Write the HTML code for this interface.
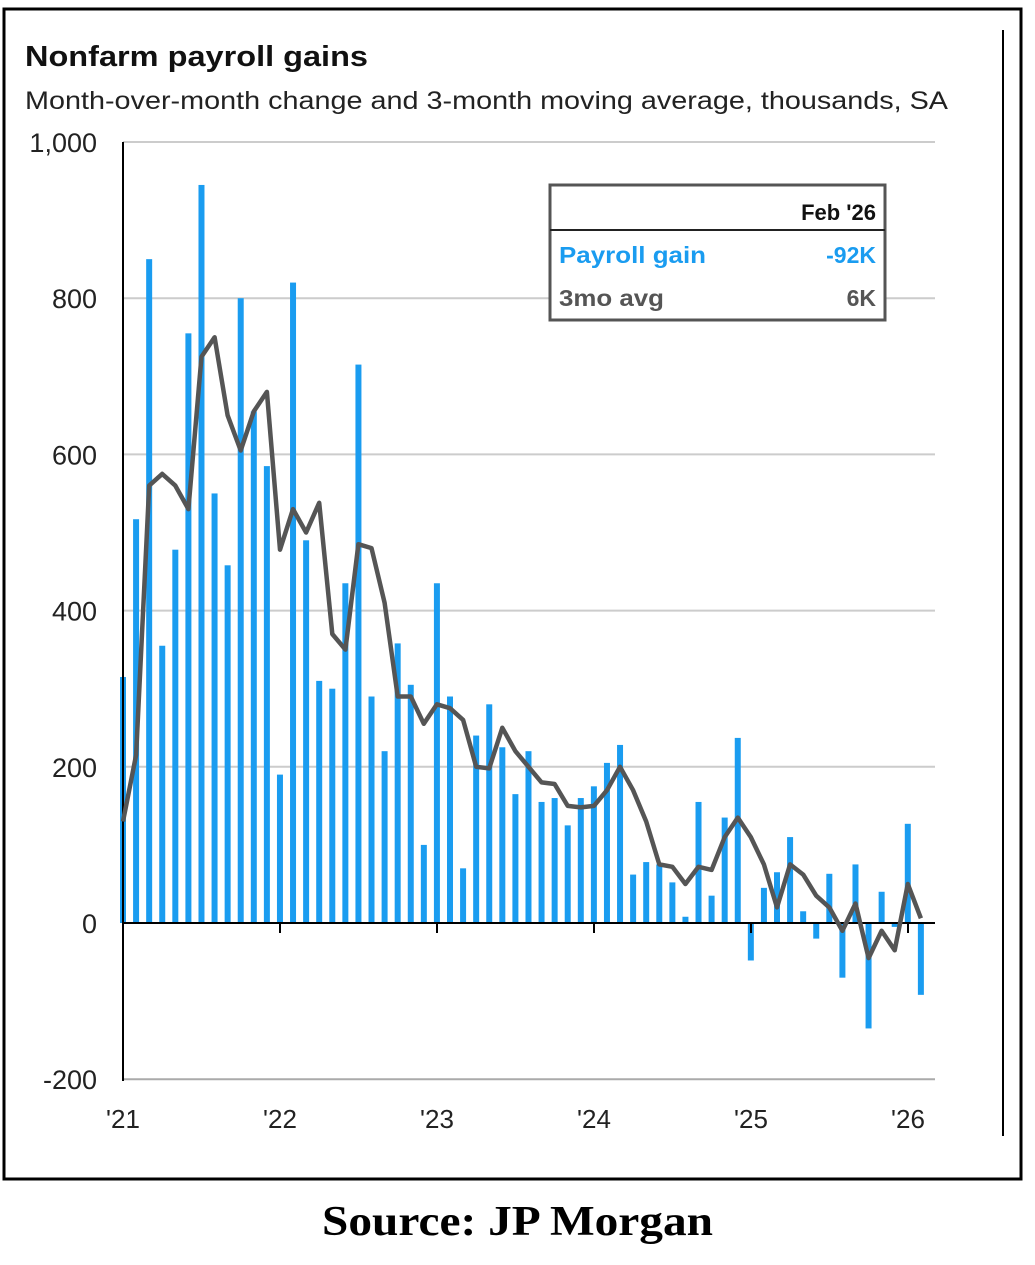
<!DOCTYPE html>
<html><head><meta charset="utf-8"><style>
body{margin:0;background:#fff;width:1035px;height:1260px;overflow:hidden}
</style></head><body>
<svg id="s" width="1035" height="1260" xmlns="http://www.w3.org/2000/svg" font-family="Liberation Sans, Arial, sans-serif">
<rect x="4" y="9" width="1017" height="1170" fill="none" stroke="#000" stroke-width="3"/>
<line x1="1003" y1="30" x2="1003" y2="1136" stroke="#000" stroke-width="2"/>
<text x="25" y="66" font-size="29" font-weight="bold" fill="#111" textLength="343" lengthAdjust="spacingAndGlyphs">Nonfarm payroll gains</text>
<text x="25" y="109" font-size="25" fill="#222" textLength="923" lengthAdjust="spacingAndGlyphs">Month-over-month change and 3-month moving average, thousands, SA</text>
<g id="grid"></g>
<g id="bars"></g>
<g id="ax"></g>
<polyline id="ln" fill="none" stroke="#555" stroke-width="4.5" stroke-linejoin="round"/>
<rect x="550" y="185" width="335" height="135" fill="#fff" stroke="#555" stroke-width="3"/>
<line x1="550" y1="230" x2="885" y2="230" stroke="#222" stroke-width="2"/>
<text x="876" y="220" font-size="22" font-weight="bold" text-anchor="end" fill="#111">Feb '26</text>
<text x="559" y="263" font-size="23" font-weight="bold" fill="#1a9cf0" textLength="147" lengthAdjust="spacingAndGlyphs">Payroll gain</text>
<text x="876" y="263" font-size="23" font-weight="bold" text-anchor="end" fill="#1a9cf0">-92K</text>
<text x="559" y="306" font-size="23" font-weight="bold" fill="#555" textLength="105" lengthAdjust="spacingAndGlyphs">3mo avg</text>
<text x="876" y="306" font-size="23" font-weight="bold" text-anchor="end" fill="#555">6K</text>
<text x="322" y="1235" font-size="42" font-weight="bold" font-family="Liberation Serif, serif" fill="#000" textLength="391" lengthAdjust="spacingAndGlyphs">Source: JP Morgan</text>
</svg>
<script>
const NS="http://www.w3.org/2000/svg";
function el(p,t,a,txt){const e=document.createElementNS(NS,t);for(const k in a)e.setAttribute(k,a[k]);if(txt!=null)e.textContent=txt;document.getElementById(p).appendChild(e);return e;}
const Y=v=>923-v*0.781, X=i=>123+i*13.08;
for(let v=-200;v<=1000;v+=200){
 if(v!==0) el("grid","line",{x1:123,x2:935,y1:Y(v),y2:Y(v),stroke:v==-200?"#aaa":"#ccc","stroke-width":2});
 el("grid","text",{x:97,y:Y(v)+10,"font-size":27,"text-anchor":"end",fill:"#222"},v==1000?"1,000":String(v));
}
const bars=[315,517,850,355,478,755,945,550,458,800,655,585,190,820,490,310,300,435,715,290,220,358,305,100,435,290,70,240,280,225,165,220,155,160,125,160,175,205,228,62,78,75,52,8,155,35,135,237,-48,45,65,110,15,-20,63,-70,75,-135,40,-5,127,-92];
bars.forEach((v,i)=>{const x=X(i);el("bars","rect",{x:x-3,y:Math.min(Y(v),923),width:6,height:Math.abs(v*0.781),fill:"#1a9cf0"});});
const avg=[130,215,560,575,560,530,725,750,650,605,655,680,478,530,500,538,370,350,485,480,410,290,290,255,280,275,260,200,198,250,220,200,180,178,150,148,150,170,200,170,130,75,72,50,72,68,110,135,110,75,20,75,62,35,20,-10,25,-45,-10,-35,50,6];
document.getElementById("ln").setAttribute("points",avg.map((v,i)=>X(i).toFixed(1)+","+Y(v).toFixed(1)).join(" "));
el("ax","line",{x1:123,x2:123,y1:142,y2:1081,stroke:"#000","stroke-width":2});
el("ax","line",{x1:123,x2:935,y1:923,y2:923,stroke:"#000","stroke-width":2});
["'21","'22","'23","'24","'25","'26"].forEach((t,k)=>{const x=123+k*157;
 el("ax","line",{x1:x,x2:x,y1:923,y2:933,stroke:"#000","stroke-width":2});
 el("ax","text",{x:x,y:1128,"font-size":26,"text-anchor":"middle",fill:"#222"},t);});
</script>
</body></html>
